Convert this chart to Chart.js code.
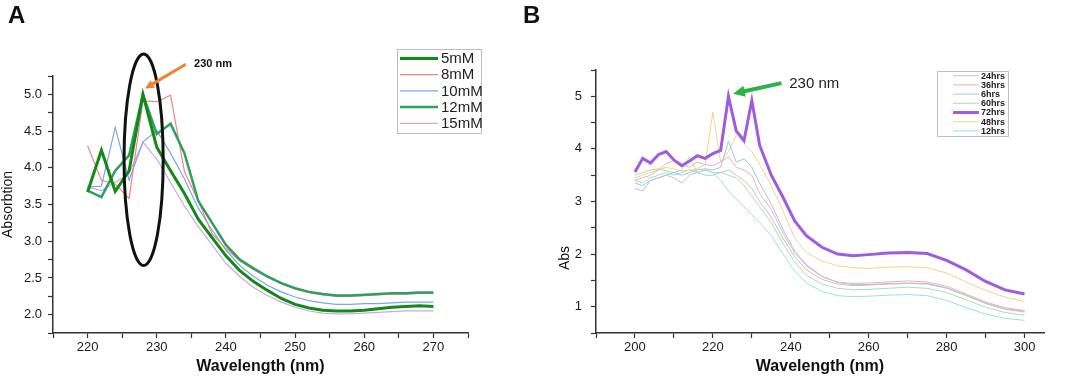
<!DOCTYPE html>
<html>
<head>
<meta charset="utf-8">
<script src="https://cdn.jsdelivr.net/npm/chart.js@4.4.1/dist/chart.umd.min.js"></script>
<style>
  html, body { margin: 0; padding: 0; background: #fff; }
  #wrap { position: relative; width: 1065px; height: 376px; overflow: hidden; }
  .panel { position: absolute; font-family: "Liberation Sans", Arial, sans-serif; font-weight: bold; font-size: 24px; color: #111; }
  #cA { position: absolute; left: 0; top: 0; }
  #cB { position: absolute; left: 530px; top: 0; }
</style>
</head>
<body>
<div id="wrap">
  <canvas id="cA" width="500" height="376"></canvas>
  <canvas id="cB" width="535" height="376"></canvas>
  <div class="panel" style="left:8px;top:1px">A</div>
  <div class="panel" style="left:523px;top:1px">B</div>
</div>
<script>
// ---- panel A data (absorption vs wavelength, by concentration)
const wavelengthA = [220,222,224,226,228,230,232,234,236,238,240,242,244,246,248,250,252,254,256,258,260,262,264,266,268,270];
const mM5  = [3.67,4.24,3.68,3.96,5.0,4.28,3.96,3.65,3.3,3.05,2.8,2.6,2.45,2.33,2.22,2.14,2.09,2.06,2.05,2.05,2.06,2.08,2.1,2.11,2.12,2.11];
const mM8  = [4.3,3.83,3.78,3.58,4.91,4.9,4.99,3.95,3.55,3.1,2.9,2.73,2.61,2.51,2.42,2.35,2.30,2.27,2.25,2.25,2.26,2.27,2.28,2.28,2.29,2.29];
const mM10 = [3.74,3.75,4.55,3.83,4.35,4.51,4.2,3.85,3.45,3.15,2.88,2.67,2.52,2.4,2.31,2.24,2.19,2.16,2.14,2.14,2.15,2.15,2.16,2.17,2.17,2.17];
const mM12 = [3.69,3.6,3.96,4.17,5.0,4.46,4.6,4.2,3.55,3.25,2.95,2.75,2.63,2.52,2.43,2.36,2.31,2.28,2.26,2.26,2.27,2.28,2.29,2.29,2.30,2.30];
const mM15 = [3.74,3.69,3.8,3.92,4.35,4.12,3.8,3.48,3.2,2.95,2.7,2.52,2.37,2.26,2.17,2.1,2.05,2.02,2.01,2.01,2.02,2.03,2.04,2.05,2.05,2.05];
const xLabelsA = [220,230,240,250,260,270];
const yLabelsA = [2.0,2.5,3.0,3.5,4.0,4.5,5.0];

// ---- panel B data (abs vs wavelength, by time)
const wavelengthB = [200,202,204,206,208,210,212,214,216,218,220,222,224,226,228,230,232,235,238,241,244,248,252,256,260,265,270,275,280,285,290,295,300];
const h24 = [3.25,3.2,3.4,3.45,3.5,3.45,3.35,3.5,3.55,3.5,3.5,3.55,3.6,3.5,3.4,3.25,3.0,2.7,2.3,1.95,1.7,1.52,1.43,1.4,1.41,1.43,1.44,1.43,1.35,1.21,1.06,0.95,0.9];
const h36 = [3.4,3.45,3.5,3.6,3.72,3.78,3.72,3.65,3.75,3.7,3.68,3.75,3.85,3.65,3.6,3.5,3.15,2.85,2.4,2.02,1.78,1.57,1.47,1.44,1.45,1.47,1.49,1.47,1.39,1.24,1.09,0.98,0.93];
const h6  = [3.35,3.3,3.4,3.45,3.5,3.55,3.5,3.55,3.6,3.62,3.6,3.65,4.15,3.75,3.81,3.65,3.35,2.95,2.47,2.06,1.8,1.58,1.46,1.42,1.42,1.44,1.45,1.44,1.36,1.22,1.07,0.96,0.91];
const h60 = [3.5,3.55,3.6,3.62,3.58,3.55,3.6,3.85,3.55,3.6,3.55,3.55,3.5,3.45,3.3,3.1,2.9,2.6,2.2,1.85,1.6,1.43,1.35,1.32,1.33,1.35,1.37,1.35,1.27,1.13,0.99,0.89,0.84];
const h72 = [3.56,3.82,3.73,3.89,3.95,3.79,3.68,3.77,3.87,3.82,3.91,3.97,5.0,4.34,4.16,4.92,4.07,3.5,3.08,2.63,2.35,2.13,2.0,1.97,1.99,2.02,2.03,2.01,1.88,1.7,1.48,1.32,1.24];
const h48 = [3.45,3.5,3.55,3.6,3.65,3.62,3.58,3.6,3.62,3.7,4.7,3.75,3.95,4.26,4.1,3.95,3.7,3.3,2.82,2.3,2.03,1.87,1.78,1.74,1.73,1.75,1.76,1.74,1.64,1.47,1.31,1.18,1.1];
const h12 = [3.4,3.35,3.45,3.5,3.55,3.5,3.55,3.6,3.55,3.6,3.55,3.4,3.2,3.05,2.9,2.75,2.6,2.35,2.0,1.68,1.45,1.29,1.21,1.19,1.2,1.22,1.23,1.21,1.12,0.98,0.86,0.78,0.74];
const xLabelsB = [200,220,240,260,280,300];
const yLabelsB = [1,2,3,4,5];

const FONT = '"Liberation Sans", Arial, sans-serif';

function pts(xs, ys) {
  return ys.map((v, i) => ({ x: xs[i], y: v }));
}

function line(label, xs, ys, color, width, order) {
  return {
    label: label,
    data: pts(xs, ys),
    borderColor: color,
    backgroundColor: color,
    borderWidth: width,
    pointRadius: 0,
    tension: 0,
    order: order
  };
}

function drawArrow(ctx, x1, y1, x2, y2, color, w, head) {
  const ang = Math.atan2(y2 - y1, x2 - x1);
  ctx.save();
  ctx.strokeStyle = color;
  ctx.fillStyle = color;
  ctx.lineWidth = w;
  ctx.beginPath();
  ctx.moveTo(x1, y1);
  ctx.lineTo(x2 - Math.cos(ang) * head * 0.8, y2 - Math.sin(ang) * head * 0.8);
  ctx.stroke();
  ctx.beginPath();
  ctx.moveTo(x2, y2);
  ctx.lineTo(x2 - head * Math.cos(ang - 0.45), y2 - head * Math.sin(ang - 0.45));
  ctx.lineTo(x2 - head * Math.cos(ang + 0.45), y2 - head * Math.sin(ang + 0.45));
  ctx.closePath();
  ctx.fill();
  ctx.restore();
}

function drawLegend(chart, o) {
  const ctx = chart.ctx;
  ctx.save();
  ctx.strokeStyle = '#bdbdbd';
  ctx.lineWidth = 1;
  ctx.strokeRect(o.x + 0.5, o.y + 0.5, o.w, o.h);
  ctx.font = o.font;
  ctx.textBaseline = 'middle';
  chart.data.datasets.forEach((ds, i) => {
    const y = o.y + o.first + i * o.gap;
    ctx.strokeStyle = ds.borderColor;
    ctx.lineWidth = ds.borderWidth;
    ctx.beginPath();
    ctx.moveTo(o.x + o.l1, y);
    ctx.lineTo(o.x + o.l2, y);
    ctx.stroke();
    ctx.fillStyle = '#222';
    ctx.fillText(ds.label, o.x + o.tx, y + 0.5);
  });
  ctx.restore();
}

function axes(xr, yr, xLabels, yLabels, yFmt, yWidth, yTitle, yPad) {
  const common = {
    border: { display: true, color: '#333', width: 1.5 },
    grid: { display: true, drawOnChartArea: false, drawTicks: true, tickLength: 5, tickColor: '#333', tickWidth: 1.2 }
  };
  return {
    x: Object.assign({}, common, {
      type: 'linear', min: xr[0], max: xr[1],
      ticks: { stepSize: xr[2], autoSkip: false, includeBounds: false, maxRotation: 0, padding: 2, color: '#1a1a1a',
               font: { family: FONT, size: 13 },
               callback: v => xLabels.includes(v) ? String(v) : '' },
      title: { display: true, text: 'Wavelength (nm)', color: '#111',
               font: { family: FONT, size: 16, weight: 'bold' }, padding: { top: 0, bottom: 0 } },
      afterFit: s => { s.height = 43; }
    }),
    y: Object.assign({}, common, {
      type: 'linear', min: yr[0], max: yr[1],
      ticks: { stepSize: yr[2], autoSkip: false, padding: yPad, color: '#1a1a1a',
               font: { family: FONT, size: 13 },
               callback: v => yLabels.includes(v) ? yFmt(v) : '' },
      title: { display: !!yTitle, text: yTitle || '', color: '#111',
               font: { family: FONT, size: 14 }, padding: { top: 0, bottom: 0 } },
      afterFit: s => { s.width = yWidth; }
    })
  };
}

// ---- chart A
const annA = {
  ellipse: { x: 228.1, y: 4.11, rx: 2.83, ry: 1.44 },
  arrow: { from: [234.2, 5.41], to: [228.3, 5.08] },
  label: { x: 235.4, y: 5.41, text: '230 nm' }
};

new Chart(document.getElementById('cA'), {
  type: 'line',
  data: {
    datasets: [
      line('5mM', wavelengthA, mM5, 'rgb(18,138,24)', 3, 0),
      line('8mM', wavelengthA, mM8, 'rgb(240,135,135)', 1.2, 2),
      line('10mM', wavelengthA, mM10, 'rgb(125,165,232)', 1.2, 2),
      line('12mM', wavelengthA, mM12, 'rgb(45,160,95)', 2.5, 1),
      line('15mM', wavelengthA, mM15, 'rgb(205,165,235)', 1.2, 2)
    ]
  },
  options: {
    responsive: false,
    animation: false,
    layout: { padding: { top: 76, right: 32, left: 0, bottom: 0 } },
    plugins: { legend: { display: false }, tooltip: { enabled: false } },
    scales: axes([215, 275, 5], [1.75, 5.25, 0.25], xLabelsA, yLabelsA, v => v.toFixed(1), 53, 'Absorbtion', 6)
  },
  plugins: [{
    id: 'extrasA',
    afterDraw(chart) {
      const ctx = chart.ctx, xs = chart.scales.x, ys = chart.scales.y;
      const e = annA.ellipse;
      const cx = xs.getPixelForValue(e.x), cy = ys.getPixelForValue(e.y);
      const rx = xs.getPixelForValue(e.x + e.rx) - cx, ry = cy - ys.getPixelForValue(e.y + e.ry);
      ctx.save();
      ctx.strokeStyle = '#111';
      ctx.lineWidth = 3;
      ctx.beginPath();
      ctx.ellipse(cx, cy, rx, ry, 0, 0, Math.PI * 2);
      ctx.stroke();
      ctx.restore();
      const a = annA.arrow;
      drawArrow(ctx, xs.getPixelForValue(a.from[0]), ys.getPixelForValue(a.from[1]),
                xs.getPixelForValue(a.to[0]), ys.getPixelForValue(a.to[1]), 'rgb(242,130,45)', 3, 10);
      ctx.save();
      ctx.font = 'bold 11px ' + FONT;
      ctx.fillStyle = '#111';
      ctx.textBaseline = 'middle';
      ctx.fillText(annA.label.text, xs.getPixelForValue(annA.label.x), ys.getPixelForValue(annA.label.y));
      ctx.restore();
      drawLegend(chart, { x: 397, y: 49, w: 84, h: 84, first: 9.5, gap: 16.2, l1: 3, l2: 41, tx: 44, font: '15px ' + FONT });
    }
  }]
});

// ---- chart B
const annB = {
  arrow: { from: [237.6, 5.25], to: [225.2, 5.05] },
  label: { x: 239.6, y: 5.24, text: '230 nm' }
};

new Chart(document.getElementById('cB'), {
  type: 'line',
  data: {
    datasets: [
      line('24hrs', wavelengthB, h24, 'rgb(195,195,195)', 1, 1),
      line('36hrs', wavelengthB, h36, 'rgb(245,172,182)', 1, 1),
      line('6hrs', wavelengthB, h6, 'rgb(160,196,236)', 1, 1),
      line('60hrs', wavelengthB, h60, 'rgb(165,225,172)', 1, 1),
      line('72hrs', wavelengthB, h72, 'rgb(160,92,222)', 3, 0),
      line('48hrs', wavelengthB, h48, 'rgb(242,212,135)', 1, 1),
      line('12hrs', wavelengthB, h12, 'rgb(150,226,226)', 1, 1)
    ]
  },
  options: {
    responsive: false,
    animation: false,
    layout: { padding: { top: 70, right: 21, left: 0, bottom: 0 } },
    plugins: { legend: { display: false }, tooltip: { enabled: false } },
    scales: axes([190, 305, 10], [0.5, 5.5, 0.5], xLabelsB, yLabelsB, v => String(v), 66, '', 9)
  },
  plugins: [{
    id: 'extrasB',
    afterDraw(chart) {
      const ctx = chart.ctx, xs = chart.scales.x, ys = chart.scales.y;
      const a = annB.arrow;
      drawArrow(ctx, xs.getPixelForValue(a.from[0]), ys.getPixelForValue(a.from[1]),
                xs.getPixelForValue(a.to[0]), ys.getPixelForValue(a.to[1]), 'rgb(40,180,70)', 4, 13);
      ctx.save();
      ctx.font = '15px ' + FONT;
      ctx.fillStyle = '#222';
      ctx.textBaseline = 'middle';
      ctx.fillText(annB.label.text, xs.getPixelForValue(annB.label.x), ys.getPixelForValue(annB.label.y));
      // y axis title, sits low on the axis in the original
      ctx.translate(chart.chartArea.left - 31, 258);
      ctx.rotate(-Math.PI / 2);
      ctx.textAlign = 'center';
      ctx.font = '14px ' + FONT;
      ctx.fillStyle = '#111';
      ctx.fillText('Abs', 0, 0);
      ctx.restore();
      drawLegend(chart, { x: 407, y: 71, w: 71, h: 65, first: 4.7, gap: 9.2, l1: 16, l2: 42, tx: 44, font: 'bold 9px ' + FONT });
    }
  }]
});
</script>
</body>
</html>
